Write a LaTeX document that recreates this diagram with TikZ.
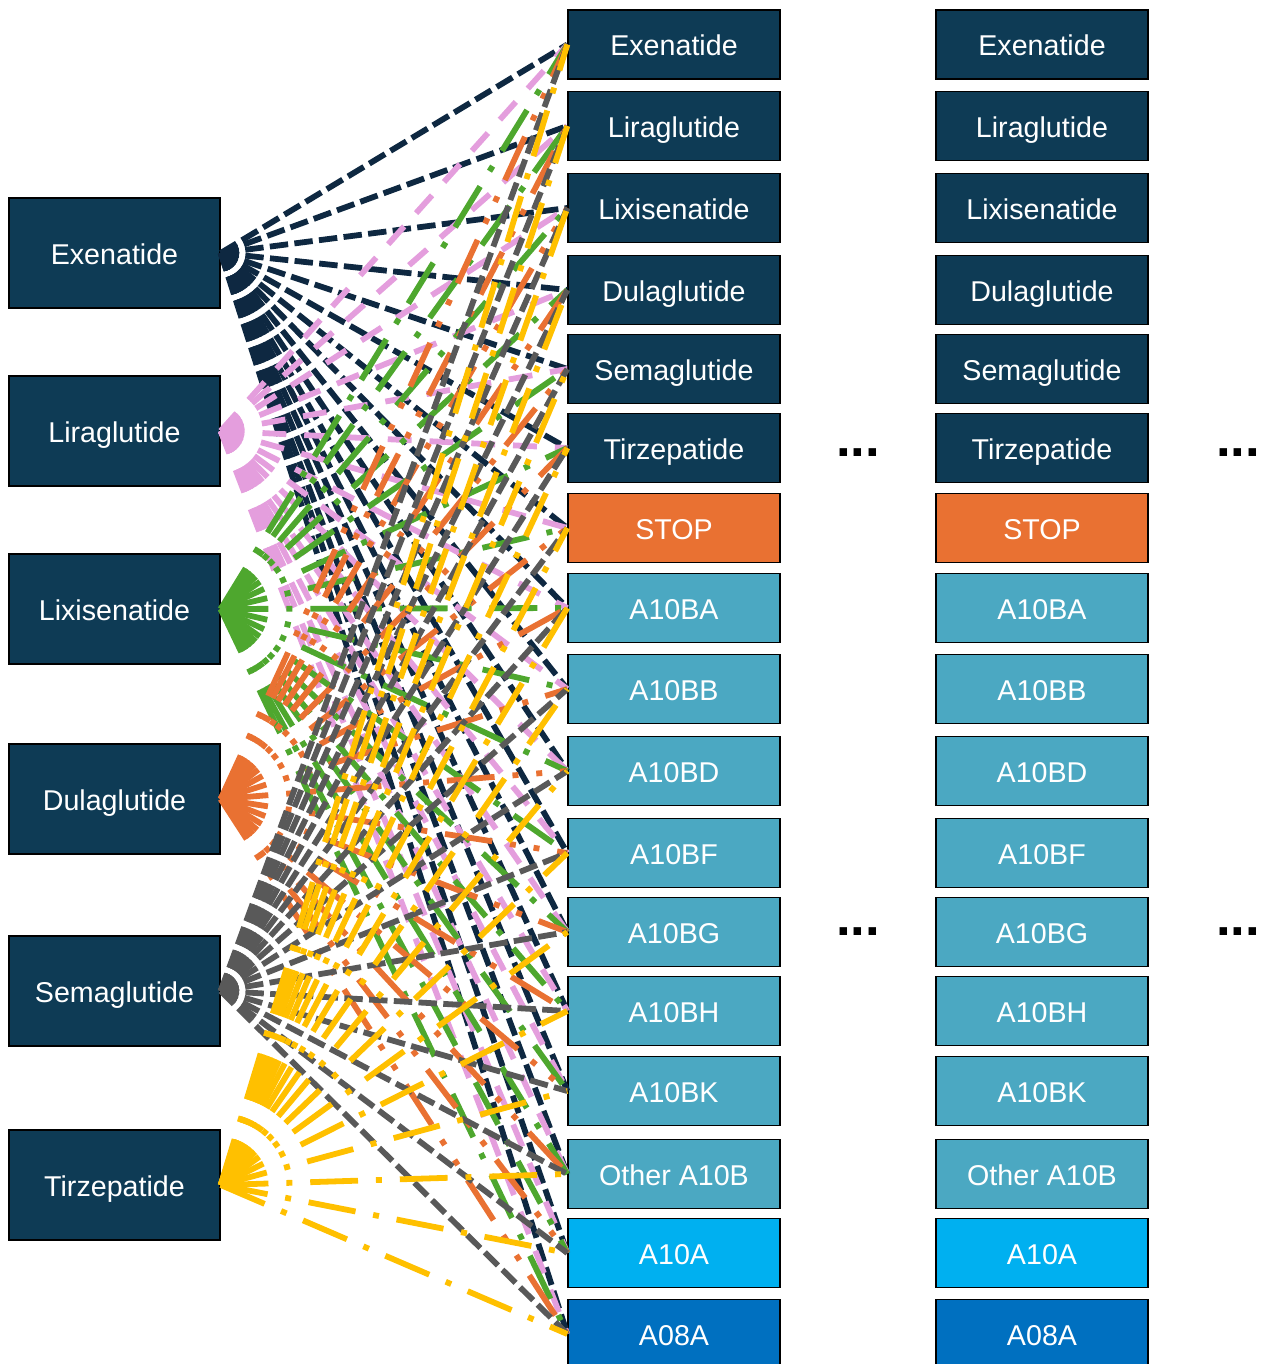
\documentclass[tikz,border=0pt]{standalone}
\usepackage{fontspec}
\setmainfont{Liberation Sans}
\usepackage{xcolor}
\usetikzlibrary{positioning}

\definecolor{navybox}{HTML}{0E3B55}
\definecolor{stopbox}{HTML}{E97132}
\definecolor{bbox}{HTML}{4BA8C2}
\definecolor{aabox}{HTML}{00B0F0}
\definecolor{abox}{HTML}{0070C0}
\definecolor{exencol}{HTML}{0E2841}
\definecolor{liracol}{HTML}{E49EDD}
\definecolor{lixicol}{HTML}{4EA72E}
\definecolor{dulacol}{HTML}{E97132}
\definecolor{semacol}{HTML}{595959}
\definecolor{tirzcol}{HTML}{FFC000}

\tikzset{
    drug/.style={draw=black, line width=0.8pt, fill=navybox, text=white, inner sep=0pt,
        minimum width=4.22cm, minimum height=2.2cm, text height=15pt, text depth=2pt,
        font=\fontsize{16.3}{19}\selectfont},
    opt/.style={drug, minimum width=4.24cm, minimum height=1.38cm},
    ellip/.style={inner sep=0pt, font=\fontsize{30}{32}\selectfont\bfseries},
    exenline/.style={draw=exencol, line width=3.3pt, dash pattern=on 10.5pt off 3.6pt},
    liraline/.style={draw=liracol, line width=3.3pt, dash pattern=on 13.6pt off 10.2pt},
    lixiline/.style={draw=lixicol, line width=3.3pt, dash pattern=on 27.2pt off 10.2pt on 3.4pt off 10.2pt},
    dulaline/.style={draw=dulacol, line width=3.3pt, dash pattern=on 27.2pt off 10.2pt on 3.4pt off 10.2pt on 3.4pt off 10.2pt},
    semaline/.style={draw=semacol, line width=3.3pt, dash pattern=on 10.5pt off 3.6pt},
    tirzline/.style={draw=tirzcol, line width=3.3pt, dash pattern=on 27.2pt off 10.2pt on 3.4pt off 10.2pt}
}

\begin{document}
\begin{tikzpicture}[x=0.02cm, y=-0.02cm]
    \useasboundingbox (0,0) rectangle (1261,1364);

    % starting drugs
    \foreach \n/\lab/\y in {1/Exenatide/253, 2/Liraglutide/431, 3/Lixisenatide/609,
                            4/Dulaglutide/799, 5/Semaglutide/991, 6/Tirzepatide/1185} {
        \node[drug] (l\n) at (114.5,\y) {\lab};
    }

    % next treatment, two columns
    \foreach \n/\lab/\y/\col in {1/Exenatide/44.5/navybox, 2/Liraglutide/126/navybox,
            3/Lixisenatide/208/navybox, 4/Dulaglutide/290/navybox, 5/Semaglutide/369/navybox,
            6/Tirzepatide/448/navybox, 7/STOP/528/stopbox, 8/A10BA/608/bbox, 9/A10BB/689/bbox,
            10/A10BD/771/bbox, 11/A10BF/853/bbox, 12/A10BG/932/bbox, 13/A10BH/1011/bbox,
            14/A10BK/1091/bbox, 15/Other A10B/1174/bbox, 16/A10A/1253/aabox, 17/A08A/1334/abox} {
        \node[opt, fill=\col] (m\n) at (674,\y) {\lab};
        \node[opt, fill=\col] (r\n) at (1042,\y) {\lab};
    }

    % switches
    \foreach \s/\st in {1/exenline, 2/liraline, 3/lixiline, 4/dulaline, 5/semaline, 6/tirzline} {
        \foreach \t in {1,...,17} {
            \draw[\st] (l\s.east) -- (m\t.west);
        }
    }

    \node[ellip] (e1) at (858,453) {...};
    \node[ellip] (e2) at (858,932) {...};
    \node[ellip] (e3) at (1238,453) {...};
    \node[ellip] (e4) at (1238,932) {...};
\end{tikzpicture}
\end{document}
